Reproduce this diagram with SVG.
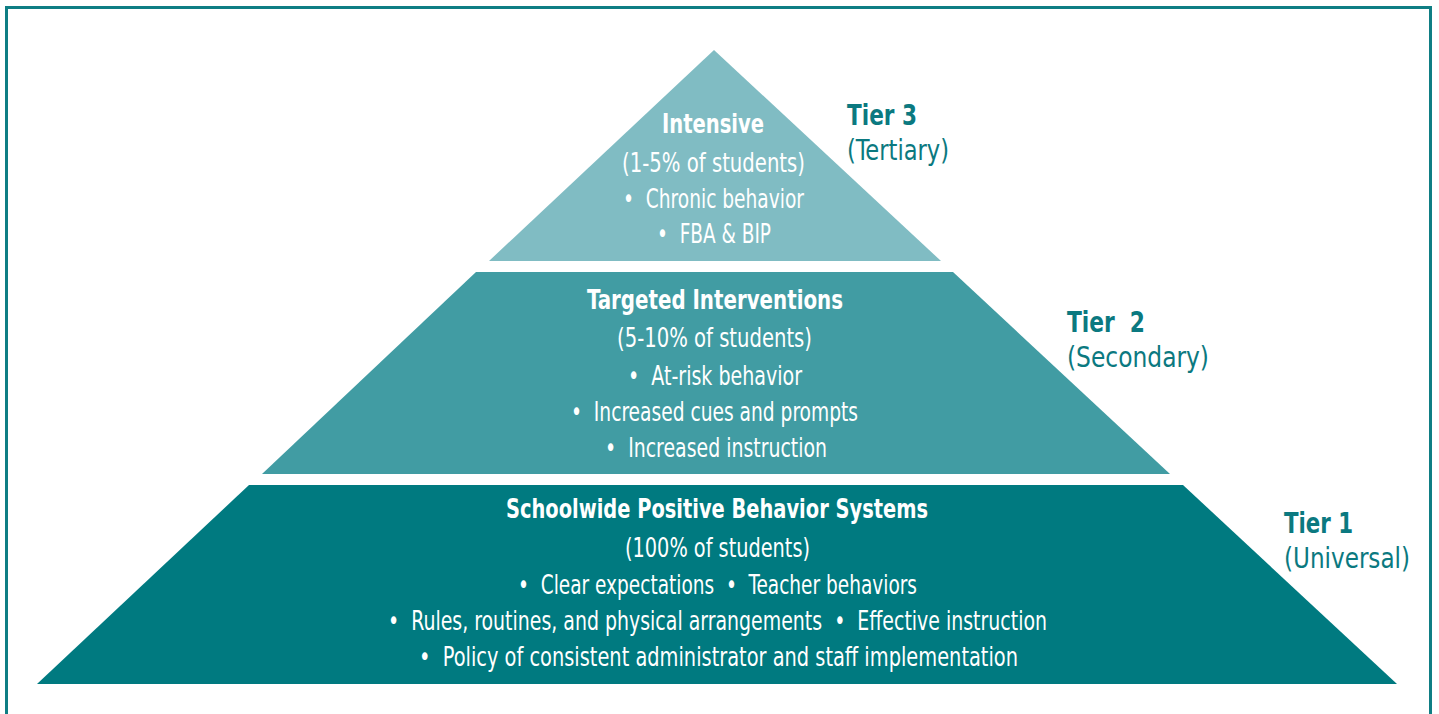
<svg xmlns="http://www.w3.org/2000/svg" width="1439" height="714" viewBox="0 0 1439 714">
<style>
  .frame { fill: none; stroke: #0F7E84; stroke-width: 3; }
  .t { font-family: "Liberation Sans Narrow", "DejaVu Sans Condensed", "Liberation Sans", sans-serif; font-size: 27px; fill: #ffffff; text-anchor: middle; }
  .b { font-weight: bold; }
  .lab { font-family: "Liberation Sans Narrow", "DejaVu Sans Condensed", "Liberation Sans", sans-serif; font-size: 28px; fill: #0B7980; }
</style>
<rect x="0" y="0" width="1439" height="714" fill="#ffffff"/>
<rect class="frame" x="6.5" y="7.5" width="1424" height="800"/>
<g id="tier3">
  <polygon points="714,50 941,261 489,261" fill="#80BCC3"/>
  <text class="t b" x="713" y="133" textLength="102" lengthAdjust="spacingAndGlyphs">Intensive</text>
  <text class="t" x="713.5" y="172" textLength="183" lengthAdjust="spacingAndGlyphs">(1-5% of students)</text>
  <text class="t" x="713.5" y="208" textLength="181" lengthAdjust="spacingAndGlyphs">•&#160;&#160;Chronic behavior</text>
  <text class="t" x="714" y="243" textLength="114" lengthAdjust="spacingAndGlyphs">•&#160;&#160;FBA &amp; BIP</text>
  <text class="lab b" x="847" y="125" textLength="70" lengthAdjust="spacingAndGlyphs">Tier 3</text>
  <text class="lab" x="847" y="160" textLength="102" lengthAdjust="spacingAndGlyphs">(Tertiary)</text>
</g>
<g id="tier2">
  <polygon points="476,272 953,272 1170,474 262,474" fill="#419CA3"/>
  <text class="t b" x="715" y="309" textLength="256" lengthAdjust="spacingAndGlyphs">Targeted Interventions</text>
  <text class="t" x="714.5" y="347" textLength="195" lengthAdjust="spacingAndGlyphs">(5-10% of students)</text>
  <text class="t" x="715" y="385" textLength="174" lengthAdjust="spacingAndGlyphs">•&#160;&#160;At-risk behavior</text>
  <text class="t" x="714.5" y="421" textLength="287" lengthAdjust="spacingAndGlyphs">•&#160;&#160;Increased cues and prompts</text>
  <text class="t" x="716" y="457" textLength="222" lengthAdjust="spacingAndGlyphs">•&#160;&#160;Increased instruction</text>
  <text class="lab b" x="1067" y="332" textLength="78" lengthAdjust="spacingAndGlyphs">Tier&#160;&#160;2</text>
  <text class="lab" x="1067" y="367" textLength="142" lengthAdjust="spacingAndGlyphs">(Secondary)</text>
</g>
<g id="tier1">
  <polygon points="249,485 1183,485 1397,684 37,684" fill="#007A80"/>
  <text class="t b" x="717" y="518" textLength="422" lengthAdjust="spacingAndGlyphs">Schoolwide Positive Behavior Systems</text>
  <text class="t" x="717.5" y="557" textLength="185" lengthAdjust="spacingAndGlyphs">(100% of students)</text>
  <text class="t" x="717.5" y="594" textLength="399" lengthAdjust="spacingAndGlyphs">•&#160;&#160;Clear expectations&#160;&#160;•&#160;&#160;Teacher behaviors</text>
  <text class="t" x="717.5" y="630" textLength="659" lengthAdjust="spacingAndGlyphs">•&#160;&#160;Rules, routines, and physical arrangements&#160;&#160;•&#160;&#160;Effective instruction</text>
  <text class="t" x="718.5" y="666" textLength="599" lengthAdjust="spacingAndGlyphs">•&#160;&#160;Policy of consistent administrator and staff implementation</text>
  <text class="lab b" x="1284" y="533" textLength="69" lengthAdjust="spacingAndGlyphs">Tier 1</text>
  <text class="lab" x="1284" y="568" textLength="126" lengthAdjust="spacingAndGlyphs">(Universal)</text>
</g>
</svg>
